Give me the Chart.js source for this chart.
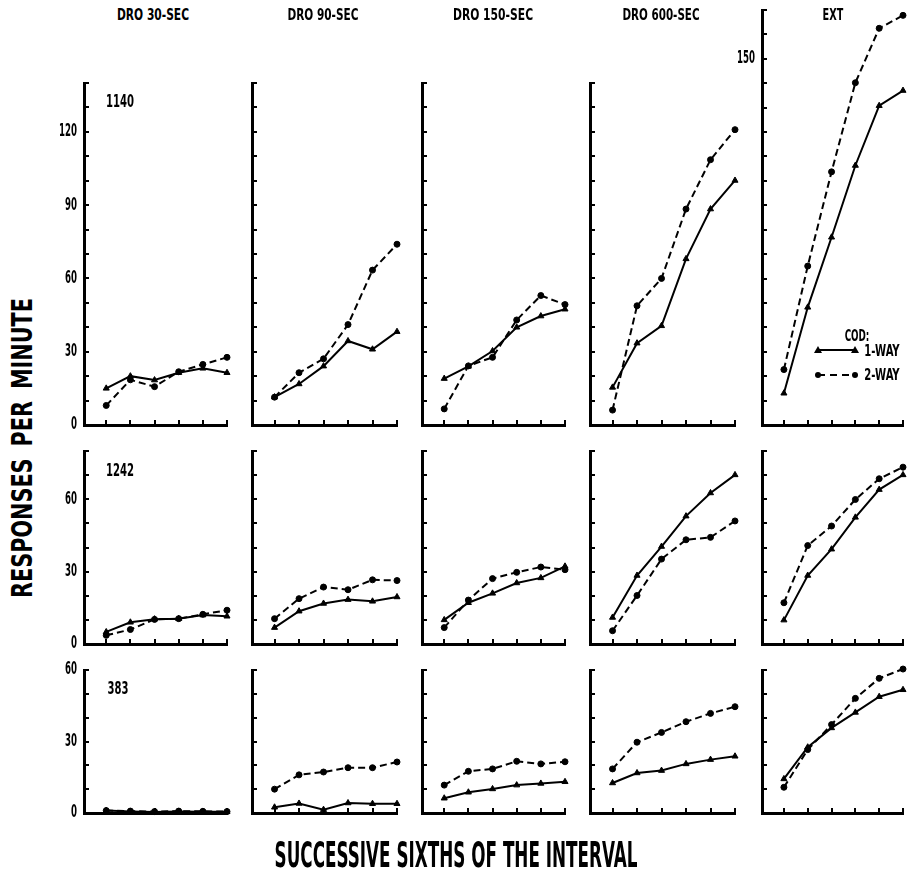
<!DOCTYPE html>
<html>
<head>
<meta charset="utf-8">
<script src="https://cdn.jsdelivr.net/npm/chart.js@4/dist/chart.umd.min.js"></script>
<style>
  html, body { margin:0; padding:0; background:#fff; }
  #stage { position:relative; width:908px; height:893px; overflow:hidden; background:#fff; }
  .panel { position:absolute; }
  .txt { position:absolute; white-space:nowrap; line-height:1; font-weight:bold; color:#000;
         font-family:'Liberation Sans Narrow','DejaVu Sans Condensed','DejaVu Sans',sans-serif; z-index:5; }
  #legendSvg { position:absolute; z-index:5; }
</style>
</head>
<body>
<div id="stage"></div>
<script>
// ---------------- DATA ----------------
const conditions = ['DRO 30-SEC', 'DRO 90-SEC', 'DRO 150-SEC', 'DRO 600-SEC', 'EXT'];
const subjects = ['1140', '1242', '383'];
const sixths = [1, 2, 3, 4, 5, 6];
const seriesNames = ['1-WAY', '2-WAY'];

// Subject 1140: one array per condition (DRO 30, 90, 150, 600, EXT)
const oneWay1140 = [
  [15, 20, 18.4, 21.4, 23.2, 21.4],
  [11.4, 16.8, 24.1, 34.4, 31, 38.2],
  [19, 24, 30.3, 40, 44.6, 47.4],
  [15.4, 33.5, 40.6, 68, 88.4, 100.1],
  [13, 48.2, 76.9, 106.3, 130.8, 137]
];
const twoWay1140 = [
  [8, 18.5, 15.7, 21.8, 24.8, 27.7],
  [11.4, 21.4, 27.1, 41.1, 63.4, 74],
  [6.6, 24.2, 27.7, 43, 53, 49.3],
  [6.1, 48.8, 60, 88.4, 108.6, 120.9],
  [22.7, 65.1, 103.7, 140.2, 162.5, 167.8]
];
// Subject 1242
const oneWay1242 = [
  [5, 9, 10.3, 10.5, 12, 11.5],
  [6.8, 13.6, 16.8, 18.4, 17.7, 19.5],
  [10, 17.1, 21, 25.3, 27.4, 32.2],
  [11, 28.4, 40.4, 53, 62.6, 70.1],
  [9.9, 28.4, 39.3, 52.5, 64, 70.1]
];
const twoWay1242 = [
  [3.6, 6, 10.2, 10.5, 12.3, 14],
  [10.5, 18.8, 23.6, 22.5, 26.6, 26.3],
  [6.8, 18.2, 27.1, 29.7, 31.9, 30.8],
  [5.5, 20.1, 35.2, 43.2, 44.2, 51],
  [17.1, 40.8, 48.9, 59.9, 68.5, 73.3]
];
// Subject 383
const oneWay383 = [
  [1, 0.6, 0.4, 0.6, 0.5, 0.5],
  [2.4, 4, 1.4, 4.2, 3.9, 3.9],
  [6.2, 8.7, 10.1, 11.7, 12.4, 13.1],
  [12.6, 16.8, 17.8, 20.6, 22.4, 23.8],
  [14.3, 27.6, 35.7, 42.2, 48.8, 51.7]
];
const twoWay383 = [
  [1, 0.8, 0.6, 0.8, 0.7, 0.6],
  [10, 16, 17.2, 19, 19, 21.4],
  [11.7, 17.5, 18.5, 21.7, 20.6, 21.5],
  [18.5, 29.7, 33.8, 38.3, 41.8, 44.6],
  [10.8, 26.6, 37.1, 48.1, 56.5, 60.4]
];

// Axis ranges and tick labels
const yMaxBySubject = [140, 80, 60];
const yMaxExt1140 = 170;
const yTickStep = 10;
const yTickLabels1140 = [0, 30, 60, 90, 120];
const yTickLabels1242 = [0, 30, 60];
const yTickLabels383 = [0, 30, 60];
const yTickLabelsExt1140 = [150];
const xMin = 0.08, xMax = 6;

// ---------------- LAYOUT ----------------
const FONT = "'Liberation Sans Narrow','DejaVu Sans Condensed','DejaVu Sans',sans-serif";
const TICK_FONT = { family: FONT, size: 17, weight: 'bold' };
const colBox = [[84, 227], [252, 397], [422, 565], [590, 735], [762, 903]];
const rowBase = [425, 644, 813];          // pixel of y = 0
const rowPxPerUnit = [2.443, 2.4125, 2.383];
const YW = 40, PR = 8, PT = 30, XH = 30;
const TICK_LABEL_120_WIDTH = 18;          // condensed look of the printed digits

const stage = document.getElementById('stage');
Chart.defaults.font.family = FONT;
Chart.defaults.color = '#000';

const oneWayAll = [oneWay1140, oneWay1242, oneWay383];
const twoWayAll = [twoWay1140, twoWay1242, twoWay383];
const labelsAll = [yTickLabels1140, yTickLabels1242, yTickLabels383];

function condenseText(ctx) {
  // draw tick text horizontally condensed (like the printed narrow typeface)
  const orig = ctx.fillText.bind(ctx);
  ctx.fillText = function (t, x, y, mw) {
    const w = ctx.measureText(t).width;
    const ref = ctx.measureText('120').width || 1;
    const k = TICK_LABEL_120_WIDTH / ref;
    orig(t, x, y, Math.max(1, w * k));
  };
}

function makePanel(r, c) {
  const isExtTop = (r === 0 && c === 4);
  const yMax = isExtTop ? yMaxExt1140 : yMaxBySubject[r];
  const labels = isExtTop ? yTickLabelsExt1140 : (c === 0 ? labelsAll[r] : []);
  const [x0, x1] = colBox[c];
  const yBottom = rowBase[r];
  const yTop = yBottom - yMax * rowPxPerUnit[r];
  const cv = document.createElement('canvas');
  const w = Math.round((x1 - x0) + YW + PR);
  const h = Math.round((yBottom - yTop) + PT + XH);
  cv.width = w; cv.height = h;
  cv.className = 'panel';
  cv.style.left = (x0 - YW) + 'px';
  cv.style.top = Math.round(yTop - PT) + 'px';
  cv.style.width = w + 'px'; cv.style.height = h + 'px';
  stage.appendChild(cv);
  const ctx = cv.getContext('2d');
  condenseText(ctx);

  const toPts = arr => sixths.map((x, i) => ({ x: x, y: arr[i] }));
  new Chart(ctx, {
    type: 'line',
    data: {
      datasets: [
        { label: seriesNames[0], data: toPts(oneWayAll[r][c]), borderColor: '#000', borderWidth: 2,
          pointStyle: 'triangle', pointRadius: 3.5, pointBackgroundColor: '#000', pointBorderColor: '#000',
          pointBorderWidth: 1, tension: 0, fill: false, clip: false },
        { label: seriesNames[1], data: toPts(twoWayAll[r][c]), borderColor: '#000', borderWidth: 2,
          borderDash: [7, 4], pointStyle: 'circle', pointRadius: 3, pointBackgroundColor: '#000',
          pointBorderColor: '#000', pointBorderWidth: 1, tension: 0, fill: false, clip: false }
      ]
    },
    options: {
      responsive: false, animation: false, events: [],
      layout: { padding: { left: 0, right: PR, top: PT, bottom: 0 } },
      plugins: { legend: { display: false }, tooltip: { enabled: false } },
      scales: {
        x: {
          type: 'linear', min: xMin, max: xMax,
          afterBuildTicks: s => { s.ticks = sixths.map(v => ({ value: v })); },
          afterFit: s => { s.height = XH; },
          ticks: { display: false },
          grid: { display: true, drawOnChartArea: false, drawTicks: true, tickLength: -5, color: '#000', lineWidth: 2 },
          border: { display: true, width: 3, color: '#000' }
        },
        y: {
          type: 'linear', min: 0, max: yMax,
          afterBuildTicks: s => { const t = []; for (let v = 0; v <= yMax; v += yTickStep) t.push({ value: v }); s.ticks = t; },
          afterFit: s => { s.width = YW; },
          ticks: { display: true, autoSkip: false, padding: 12, color: '#000', font: TICK_FONT,
                   callback: v => labels.includes(v) ? String(v) : '' },
          grid: { display: true, drawOnChartArea: false, drawTicks: true, tickLength: -5, color: '#000', lineWidth: 2 },
          border: { display: true, width: 3, color: '#000' }
        }
      }
    }
  });
}
for (let r = 0; r < 3; r++) for (let c = 0; c < 5; c++) makePanel(r, c);

// ---------------- TEXT ----------------
function addText(text, opts) {
  const el = document.createElement('div');
  el.className = 'txt';
  el.textContent = text;
  el.style.fontSize = opts.fs + 'px';
  if (opts.spacing) el.style.wordSpacing = opts.spacing + 'px';
  stage.appendChild(el);
  const natural = el.offsetWidth;
  const sx = opts.w / natural;
  el.style.left = opts.cx + 'px';
  el.style.top = opts.cy + 'px';
  const rot = opts.rot ? ' rotate(' + opts.rot + 'deg)' : '';
  el.style.transform = 'translate(-50%,-50%)' + rot + ' scaleX(' + sx.toFixed(3) + ')';
  return el;
}
const headerCenters = [153, 323, 493, 661, 833];
const headerWidths = [72, 71, 80, 77, 21];
conditions.forEach((t, i) => addText(t, { cx: headerCenters[i], cy: 15, w: headerWidths[i], fs: 16 }));

addText(subjects[0], { cx: 120, cy: 101, w: 28, fs: 18 });
addText(subjects[1], { cx: 120, cy: 470, w: 28, fs: 18 });
addText(subjects[2], { cx: 117.5, cy: 688, w: 21, fs: 18 });

addText('RESPONSES PER MINUTE', { cx: 22, cy: 448, w: 300, fs: 29, rot: -90, spacing: 6 });
addText('SUCCESSIVE SIXTHS OF THE INTERVAL', { cx: 456, cy: 855, w: 363, fs: 36 });

// Legend
addText('COD:', { cx: 857, cy: 336, w: 25, fs: 16 });
addText(seriesNames[0], { cx: 882, cy: 351, w: 35, fs: 16 });
addText(seriesNames[1], { cx: 882, cy: 375, w: 35, fs: 16 });
const svgNS = 'http://www.w3.org/2000/svg';
const svg = document.createElementNS(svgNS, 'svg');
svg.setAttribute('id', 'legendSvg');
svg.setAttribute('width', '50'); svg.setAttribute('height', '40');
svg.style.left = '810px'; svg.style.top = '340px';
svg.innerHTML =
  '<line x1="8" y1="10" x2="45" y2="10" stroke="#000" stroke-width="2"/>' +
  '<polygon points="8,6 12,13 4,13" fill="#000"/>' +
  '<polygon points="45,6 49,13 41,13" fill="#000"/>' +
  '<line x1="8" y1="35" x2="45" y2="35" stroke="#000" stroke-width="2" stroke-dasharray="7,5"/>' +
  '<circle cx="8" cy="35" r="3" fill="#000"/>' +
  '<circle cx="45" cy="35" r="3" fill="#000"/>';
stage.appendChild(svg);
</script>
</body>
</html>
